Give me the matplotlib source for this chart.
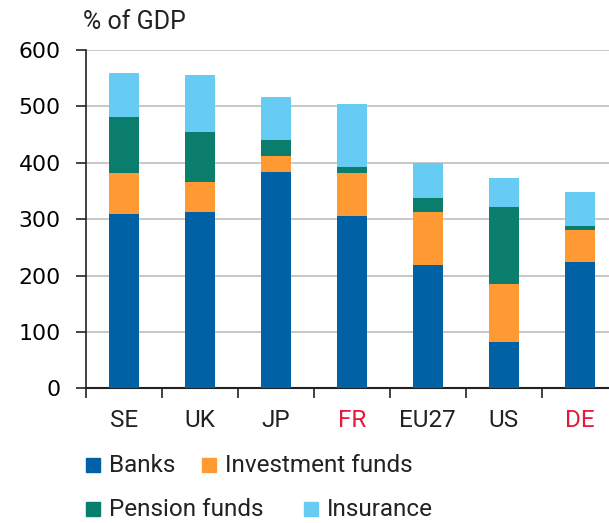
import numpy as np
import matplotlib.pyplot as plt
from matplotlib.patches import Rectangle

plt.rcParams['font.family'] = ['Roboto', 'DejaVu Sans']

# data (% of GDP)
countries = ['SE', 'UK', 'JP', 'FR', 'EU27', 'US', 'DE']
highlight = ['FR', 'DE']
banks = [310, 313, 384, 306, 218, 82, 224]
invest = [71, 53, 28, 76, 94, 103, 57]
pension = [101, 89, 29, 10, 26, 136, 6]
insurance = [78, 101, 75, 112, 62, 52, 62]

series = ['Banks', 'Investment funds', 'Pension funds', 'Insurance']
colors = ['#0061a5', '#ff9933', '#0b7d6c', '#66ccf4']

W, H = 609, 523
fig = plt.figure(figsize=(W / 100, H / 100), dpi=100)
ax = fig.add_axes([85.7 / W, 1 - 388.3 / H, 532 / W, 338.3 / H])

x = np.arange(len(countries))
bottom = np.zeros(len(countries))
for vals, c in zip([banks, invest, pension, insurance], colors):
    ax.bar(x, vals, width=0.39, bottom=bottom, color=c, edgecolor='none', zorder=3)
    bottom += np.array(vals)

ax.set_xlim(-0.5, len(countries) - 0.5)
ax.set_ylim(0, 600)
ax.set_yticks(range(0, 601, 100))
ax.yaxis.grid(True, color='#c4c4c4', linewidth=1.3, zorder=0)
ax.set_axisbelow(True)

# ticks at category boundaries, labels at centres
ax.set_xticks(np.arange(-0.5, len(countries), 1))
ax.set_xticklabels([])
ax.set_xticks(x, minor=True)
ax.set_xticklabels(countries, minor=True)
ax.tick_params(axis='x', which='major', length=7, width=1.2, color='#222222')
ax.tick_params(axis='x', which='minor', length=0, pad=15, labelsize=17.5)
ax.tick_params(axis='y', length=7, width=1.2, color='#222222', labelsize=15.8, pad=11)
for lab in ax.get_yticklabels():
    lab.set_family('DejaVu Sans')
for lab in ax.get_xticklabels(minor=True):
    lab.set_color('#222222')
    if lab.get_text() in highlight:
        lab.set_color('#e4193b')

for s in ['top', 'right']:
    ax.spines[s].set_visible(False)
ax.spines['left'].set_linewidth(1.2)
ax.spines['bottom'].set_linewidth(1.5)
ax.spines['left'].set_color('#222222')
ax.spines['bottom'].set_color('#222222')

fig.text(83 / W, 1 - 22 / H, '% of GDP', fontsize=18, va='center', ha='left', color='#222222')

# legend, drawn by hand in two rows
leg_pos = [(86, 465), (202, 465), (86, 509), (304, 509)]
sz = 14
for name, c, (px, py) in zip(series, colors, leg_pos):
    fig.patches.append(Rectangle((px / W, 1 - (py + sz / 2) / H), sz / W, sz / H,
                                 transform=fig.transFigure, color=c))
    fig.text((px + sz + 9) / W, 1 - py / H, name, fontsize=17.5, va='center', ha='left',
             color='#222222')

plt.savefig('out.png', dpi=100)
